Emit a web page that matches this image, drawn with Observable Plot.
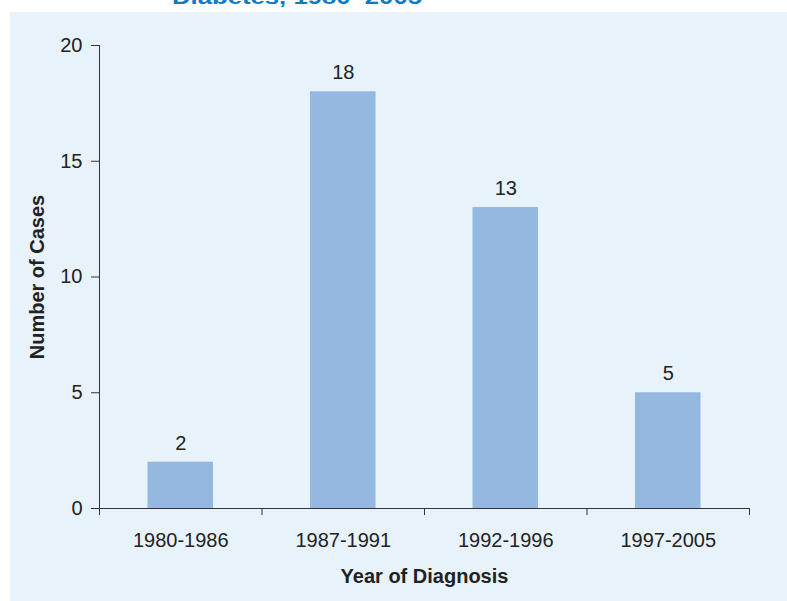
<!DOCTYPE html>
<html>
<head>
<meta charset="utf-8">
<script src="https://cdn.jsdelivr.net/npm/d3@7"></script>
<script src="https://cdn.jsdelivr.net/npm/@observablehq/plot@0.6"></script>
<style>
  html, body { margin: 0; padding: 0; background: #ffffff; }
  #wrap { position: relative; width: 787px; height: 601px; overflow: hidden; background: #ffffff; }
  #title { position: absolute; left: 0; top: 0; }
  #panel { position: absolute; left: 10px; top: 12px; width: 777px; height: 589px; background: #e8f2fb; }
</style>
</head>
<body>
<div id="wrap">
  <svg id="title" width="787" height="12">
    <text x="172" y="3.5" textLength="250" lengthAdjust="spacingAndGlyphs"
      font-family="Liberation Sans, Arial, sans-serif" font-weight="bold" font-size="20" fill="#0a7bc6">Diabetes, 1980–2005</text>
  </svg>
  <div id="panel"></div>
</div>
<script>
const categories = ["1980-1986", "1987-1991", "1992-1996", "1997-2005"];
const cases = [2, 18, 13, 5];
const yTicks = [0, 5, 10, 15, 20];
const xLabel = "Year of Diagnosis";
const yLabel = "Number of Cases";

const data = categories.map((c, i) => ({category: c, index: i, cases: cases[i]}));
const boundaries = d3.range(categories.length + 1);

const chart = Plot.plot({
  width: 777,
  height: 589,
  marginLeft: 89,
  marginRight: 38,
  marginTop: 33,
  marginBottom: 93,
  style: {background: "transparent", fontFamily: "Liberation Sans, Arial, sans-serif", fontSize: "20px", color: "#222"},
  x: {type: "linear", domain: [0, categories.length]},
  y: {domain: [0, 20]},
  marks: [
    Plot.rectY(data, {x1: "index", x2: d => d.index + 1, y: "cases", fill: "#95b8e1", insetLeft: 48.5, insetRight: 48.5}),
    Plot.axisY({ticks: yTicks, tickSize: 8, tickPadding: 9, stroke: "#333", fill: "#222", label: null, fontSize: 20}),
    Plot.axisX({ticks: boundaries, tickSize: 7, tickFormat: () => "", stroke: "#333", label: null}),
    Plot.ruleX([0], {stroke: "#333"}),
    Plot.ruleY([0], {stroke: "#333"}),
    Plot.text(data, {x: d => d.index + 0.5, y: 0, text: "category", dy: 32, fontSize: 20, fill: "#222", lineAnchor: "middle"}),
    Plot.text(data, {x: d => d.index + 0.5, y: "cases", text: d => String(d.cases), dy: -19, fontSize: 20, fill: "#222", lineAnchor: "middle"}),
    Plot.text([yLabel], {frameAnchor: "left", text: d => d, rotate: -90, dx: -61.5, textAnchor: "middle", lineAnchor: "middle", fontWeight: "bold", fontSize: 20, fill: "#222"}),
    Plot.text([xLabel], {frameAnchor: "bottom", text: d => d, dy: 68, textAnchor: "middle", lineAnchor: "middle", fontWeight: "bold", fontSize: 20, fill: "#222"})
  ]
});
document.getElementById("panel").appendChild(chart);
</script>
</body>
</html>
